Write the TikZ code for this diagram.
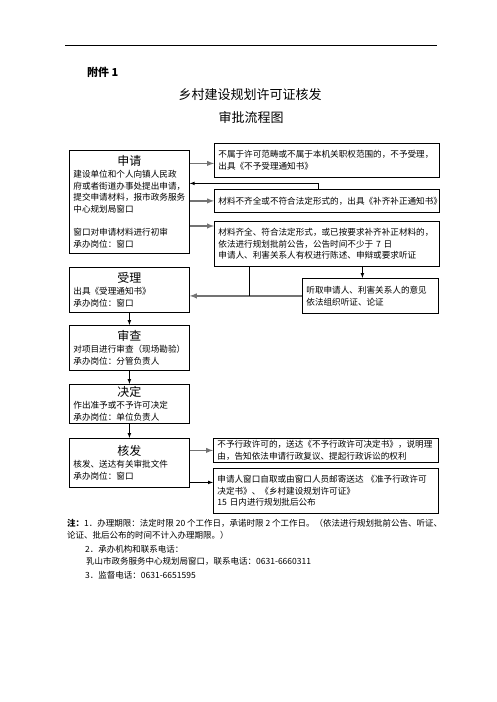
\documentclass[tikz,border=0pt]{standalone}
\usepackage{fontspec}
\setmainfont{Noto Sans CJK SC}
\usetikzlibrary{arrows, calc}

\newcommand{\hd}{\fontsize{12}{14}\selectfont}
\newcommand{\boxhead}[1]{\hfill{\hd #1}\hfill\null}

\tikzset{
    box/.style={draw, line width=0.8pt, anchor=north west, inner xsep=4pt, inner ysep=2pt,
        align=left, font=\fontsize{8.6}{11.7}\selectfont},
    arr/.style={-latex, line width=0.7pt},
    garr/.style={-latex, line width=1.4pt, black!55},
    note/.style={anchor=base west, inner sep=0pt, font=\fontsize{8.5}{10}\selectfont}
}

\begin{document}
\begin{tikzpicture}[x=1pt, y=-1pt]
        \useasboundingbox (0,0) rectangle (496,702);
        \draw[line width=0.8pt] (65,45) -- (437,45);

        \node[anchor=base west, inner sep=0pt, font=\fontsize{11}{13}\selectfont\bfseries] (fj) at (87,76) {附件 1};
        \node[font=\fontsize{13}{15}\selectfont] (tt1) at (250,95) {乡村建设规划许可证核发};
        \node[font=\fontsize{13}{15}\selectfont] (tt2) at (251,118) {审批流程图};

        \node[box, text width=112pt, minimum height=103pt] (sq) at (69,150)
            {\boxhead{申请}\\建设单位和个人向镇人民政\\府或者街道办事处提出申请，\\提交申请材料，报市政务服务\\中心规划局窗口\\[11.7pt]窗口对申请材料进行初审\\承办岗位：窗口};
        \node[box, text width=217pt, minimum height=34pt] (bl) at (214,143)
            {不属于许可范畴或不属于本机关职权范围的，不予受理，\\出具《不予受理通知书》};
        \node[box, text width=217pt, minimum height=23pt] (bz) at (214,189)
            {材料不齐全或不符合法定形式的，出具《补齐补正通知书》};
        \node[box, text width=217pt, minimum height=45pt] (gg) at (214,221)
            {材料齐全、符合法定形式，或已按要求补齐补正材料的，\\依法进行规划批前公告，公告时间不少于 7 日\\申请人、利害关系人有权进行陈述、申辩或要求听证};

        \node[box, text width=112pt, minimum height=45pt] (sl) at (69,267)
            {\boxhead{受理}\\出具《受理通知书》\\承办岗位：窗口};
        \node[box, text width=128pt, minimum height=35pt] (tz) at (302,278)
            {听取申请人、利害关系人的意见\\依法组织听证、论证};
        \node[box, text width=112pt, minimum height=45pt] (sc) at (69,325)
            {\boxhead{审查}\\对项目进行审查（现场勘验）\\承办岗位：分管负责人};
        \node[box, text width=112pt, minimum height=39pt] (jd) at (69,384)
            {\boxhead{决定}\\作出准予或不予许可决定\\承办岗位：单位负责人};
        \node[box, text width=112pt, minimum height=49pt] (hf) at (69,438)
            {\boxhead{核发}\\核发、送达有关审批文件\\承办岗位：窗口};
        \node[box, text width=217pt, minimum height=24pt] (bx) at (213,438)
            {不予行政许可的，送达《不予行政许可决定书》，说明理\\由，告知依法申请行政复议、提起行政诉讼的权利};
        \node[box, text width=217pt, minimum height=45pt] (sd) at (213,468)
            {申请人窗口自取或由窗口人员邮寄送达 《准予行政许可\\决定书》、《乡村建设规划许可证》\\15 日内进行规划批后公布};

        \draw[garr] ([yshift=-3pt]bl.west -| sq.east) -- ([yshift=-3pt]bl.west);
        \draw[arr] ([xshift=-8.5pt]bz.north) |- ([yshift=18.5pt]sq.east);
        \draw[garr] (bz.west -| sq.east) -- (bz.west);
        \draw[garr] ([yshift=-5pt]gg.north west -| sq.east) -- ([yshift=-5pt]gg.north west);

        \coordinate (jn) at ([xshift=-77.5pt]gg.south |- tz.west);
        \draw[garr] (tz.west) -- (tz.west -| sl.east);
        \draw[arr, -] ([xshift=-77.5pt]gg.south) -- (jn);
        \draw[arr] ([xshift=-8pt]tz.north |- gg.south) -- ([xshift=-8pt]tz.north);

        \draw[arr] (sl.south) -- (sc.north);
        \draw[arr] (sc.south) -- (jd.north);
        \draw[arr] (jd.south) -- (hf.north);
        \draw[garr] (bx.west -| hf.east) -- (bx.west);
        \draw[arr] ([yshift=8.5pt]sd.west -| hf.east) -- ([yshift=8.5pt]sd.west);

        \node[note] (n1) at (67,526) {{\bfseries 注：}1．办理期限：法定时限 20 个工作日，承诺时限 2 个工作日。（依法进行规划批前公告、听证、};
        \node[note] (n2) at (67,538) {论证、批后公布的时间不计入办理期限。）};
        \node[note] (n3) at (85,552) {2．承办机构和联系电话：};
        \node[note] (n4) at (86,564) {乳山市政务服务中心规划局窗口，联系电话：0631-6660311};
        \node[note] (n5) at (85,578) {3．监督电话：0631-6651595};
    \end{tikzpicture}
\end{document}
